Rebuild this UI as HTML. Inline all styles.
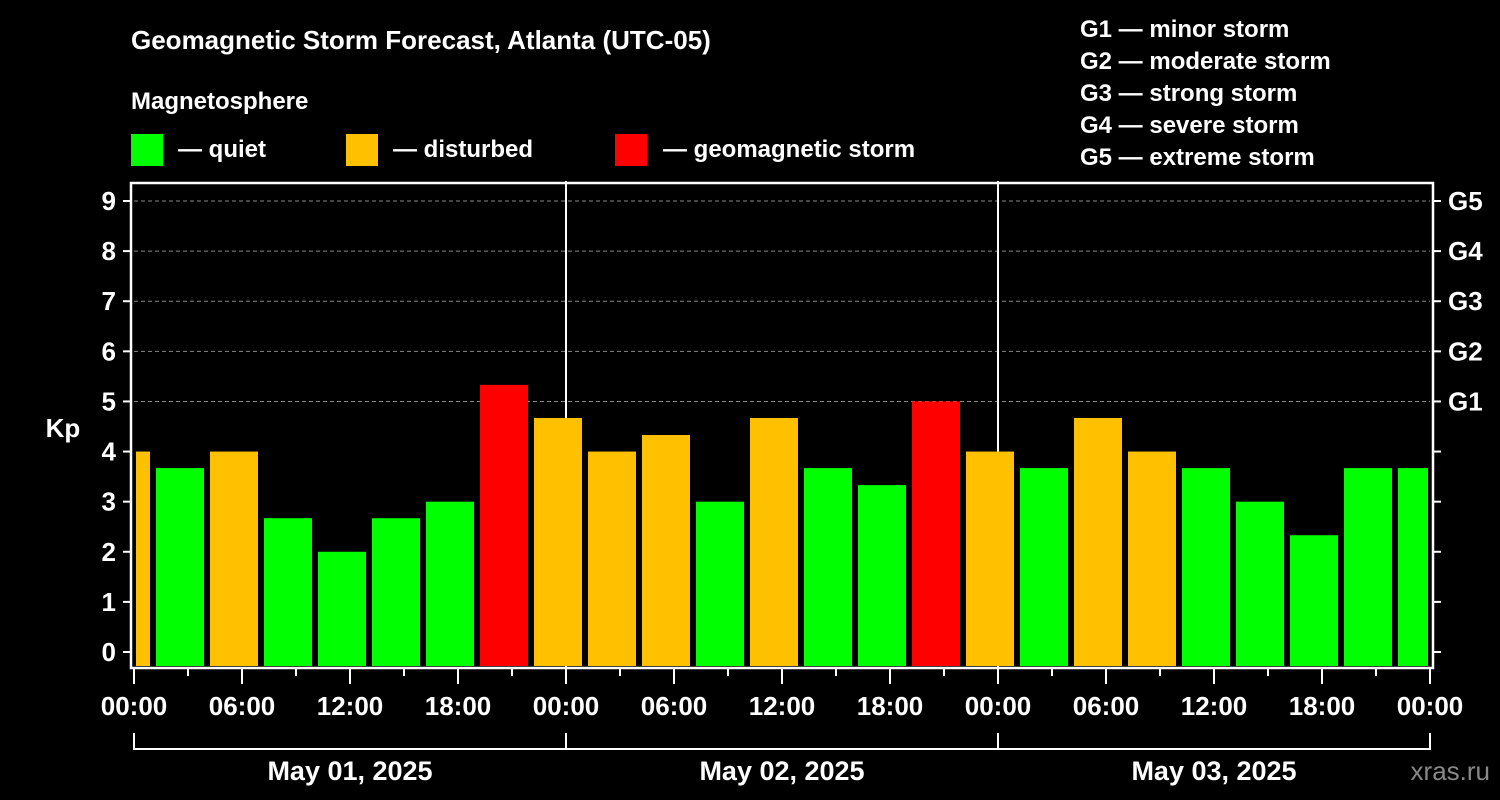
<!DOCTYPE html>
<html><head><meta charset="utf-8"><style>
html,body{margin:0;padding:0;background:#000;}
svg{display:block;font-family:"Liberation Sans",Arial,sans-serif;font-weight:bold;}
</style></head><body>
<svg id="chart" width="1500" height="800" viewBox="0 0 1500 800">
<rect x="0" y="0" width="1500" height="800" fill="#000"/>
<text x="131" y="49" fill="#fff" font-size="26">Geomagnetic Storm Forecast, Atlanta (UTC-05)</text>
<text x="131" y="109" fill="#fff" font-size="24">Magnetosphere</text>
<g><rect x="131" y="134" width="32" height="32" fill="#00ff00"/><text x="178" y="157" fill="#fff" font-size="24">— quiet</text></g>
<g><rect x="346" y="134" width="32" height="32" fill="#ffc000"/><text x="393" y="157" fill="#fff" font-size="24">— disturbed</text></g>
<g><rect x="615" y="134" width="32" height="32" fill="#ff0000"/><text x="663" y="157" fill="#fff" font-size="24">— geomagnetic storm</text></g>
<g fill="#fff" font-size="24">
<text x="1080" y="37">G1 — minor storm</text>
<text x="1080" y="69">G2 — moderate storm</text>
<text x="1080" y="101">G3 — strong storm</text>
<text x="1080" y="133">G4 — severe storm</text>
<text x="1080" y="165">G5 — extreme storm</text>
</g>
<g id="grid"></g>
<g id="bars"></g>
<g id="axes"></g>
<text x="63" y="437" fill="#fff" font-size="26" text-anchor="middle">Kp</text>
<text x="1490" y="780" fill="#888" font-size="26" text-anchor="end" font-weight="normal">xras.ru</text>
</svg>
<script>
const binStartHours = [-2,1,4,7,10,13,16,19,22,25,28,31,34,37,40,43,46,49,52,55,58,61,64,67,70];
const kpValues = [4,3.67,4,2.67,2,2.67,3,5.33,4.67,4,4.33,3,4.67,3.67,3.33,5,4,3.67,4.67,4,3.67,3,2.33,3.67,3.67];
const kpTicks = [0,1,2,3,4,5,6,7,8,9];
const gLabels = ["G1","G2","G3","G4","G5"];
const gKp = [5,6,7,8,9];
const dayLabels = ["May 01, 2025","May 02, 2025","May 03, 2025"];
const timeLabels = ["00:00","06:00","12:00","18:00"];

const NS="http://www.w3.org/2000/svg";
const L=134,R=1430,T=183,B=668;
const xs=h=>L+h*(R-L)/72;
const ys=v=>652-v*(652-201)/9;
function mk(tag,attrs,parent){const e=document.createElementNS(NS,tag);for(const k in attrs)e.setAttribute(k,attrs[k]);parent.appendChild(e);return e;}
const grid=document.getElementById('grid'),bars=document.getElementById('bars'),axes=document.getElementById('axes');

gKp.forEach((v,i)=>{
  const ln=mk('line',{x1:L,x2:R,y1:ys(v),y2:ys(v),stroke:'#888','stroke-dasharray':'4,3','stroke-width':1},grid);
  
  
});
[24,48].forEach(h=>{
  const ln=mk('line',{x1:xs(h),x2:xs(h),y1:T-2,y2:B,stroke:'#fff','stroke-width':2},grid);
  
  
});

binStartHours.forEach((s,i)=>{
  const v=kpValues[i];
  let x0=xs(s)+4, x1=xs(s+3)-2;
  if(s<0)x0=L+2;
  if(s+3>72)x1=R-2;
  const col=v>=5?'#ff0000':(v>=4?'#ffc000':'#00ff00');
  const r=mk('rect',{x:x0,y:ys(v),width:x1-x0,height:(B-2)-ys(v),fill:col},bars);
  
  
});

const fr=mk('rect',{x:131,y:T,width:1302,height:B-T,fill:'none',stroke:'#fff','stroke-width':2.5},axes);



kpTicks.forEach(v=>{
  mk('line',{x1:123,x2:131,y1:ys(v),y2:ys(v),stroke:'#fff','stroke-width':2},axes);
  mk('line',{x1:1433,x2:1441,y1:ys(v),y2:ys(v),stroke:'#fff','stroke-width':2},axes);
  const t=mk('text',{x:116,y:ys(v)+9,fill:'#fff','font-size':26,'text-anchor':'end'},axes);
  t.textContent=v;
  
  
});
gKp.forEach((v,i)=>{
  const t=mk('text',{x:1448,y:ys(v)+9,fill:'#fff','font-size':26},axes);
  t.textContent=gLabels[i];
  
  
});
for(let h=0;h<=72;h+=3){
  const major=h%6===0;
  mk('line',{x1:xs(h),x2:xs(h),y1:B+1,y2:B+(major?16:8),stroke:'#fff','stroke-width':2},axes);
  if(major){
    const t=mk('text',{x:xs(h),y:715,fill:'#fff','font-size':26,'text-anchor':'middle'},axes);
    t.textContent=(h===72)?timeLabels[0]:timeLabels[(h%24)/6];
    
    
  }
}
dayLabels.forEach((d,i)=>{
  const a=xs(i*24),b=xs(i*24+24);
  mk('path',{d:`M${a},733 V749 H${b} V733`,fill:'none',stroke:'#fff','stroke-width':2},axes);
  const t=mk('text',{x:(a+b)/2,y:780,fill:'#fff','font-size':27,'text-anchor':'middle'},axes);
  t.textContent=d;
  
  
});
</script>
</body></html>
